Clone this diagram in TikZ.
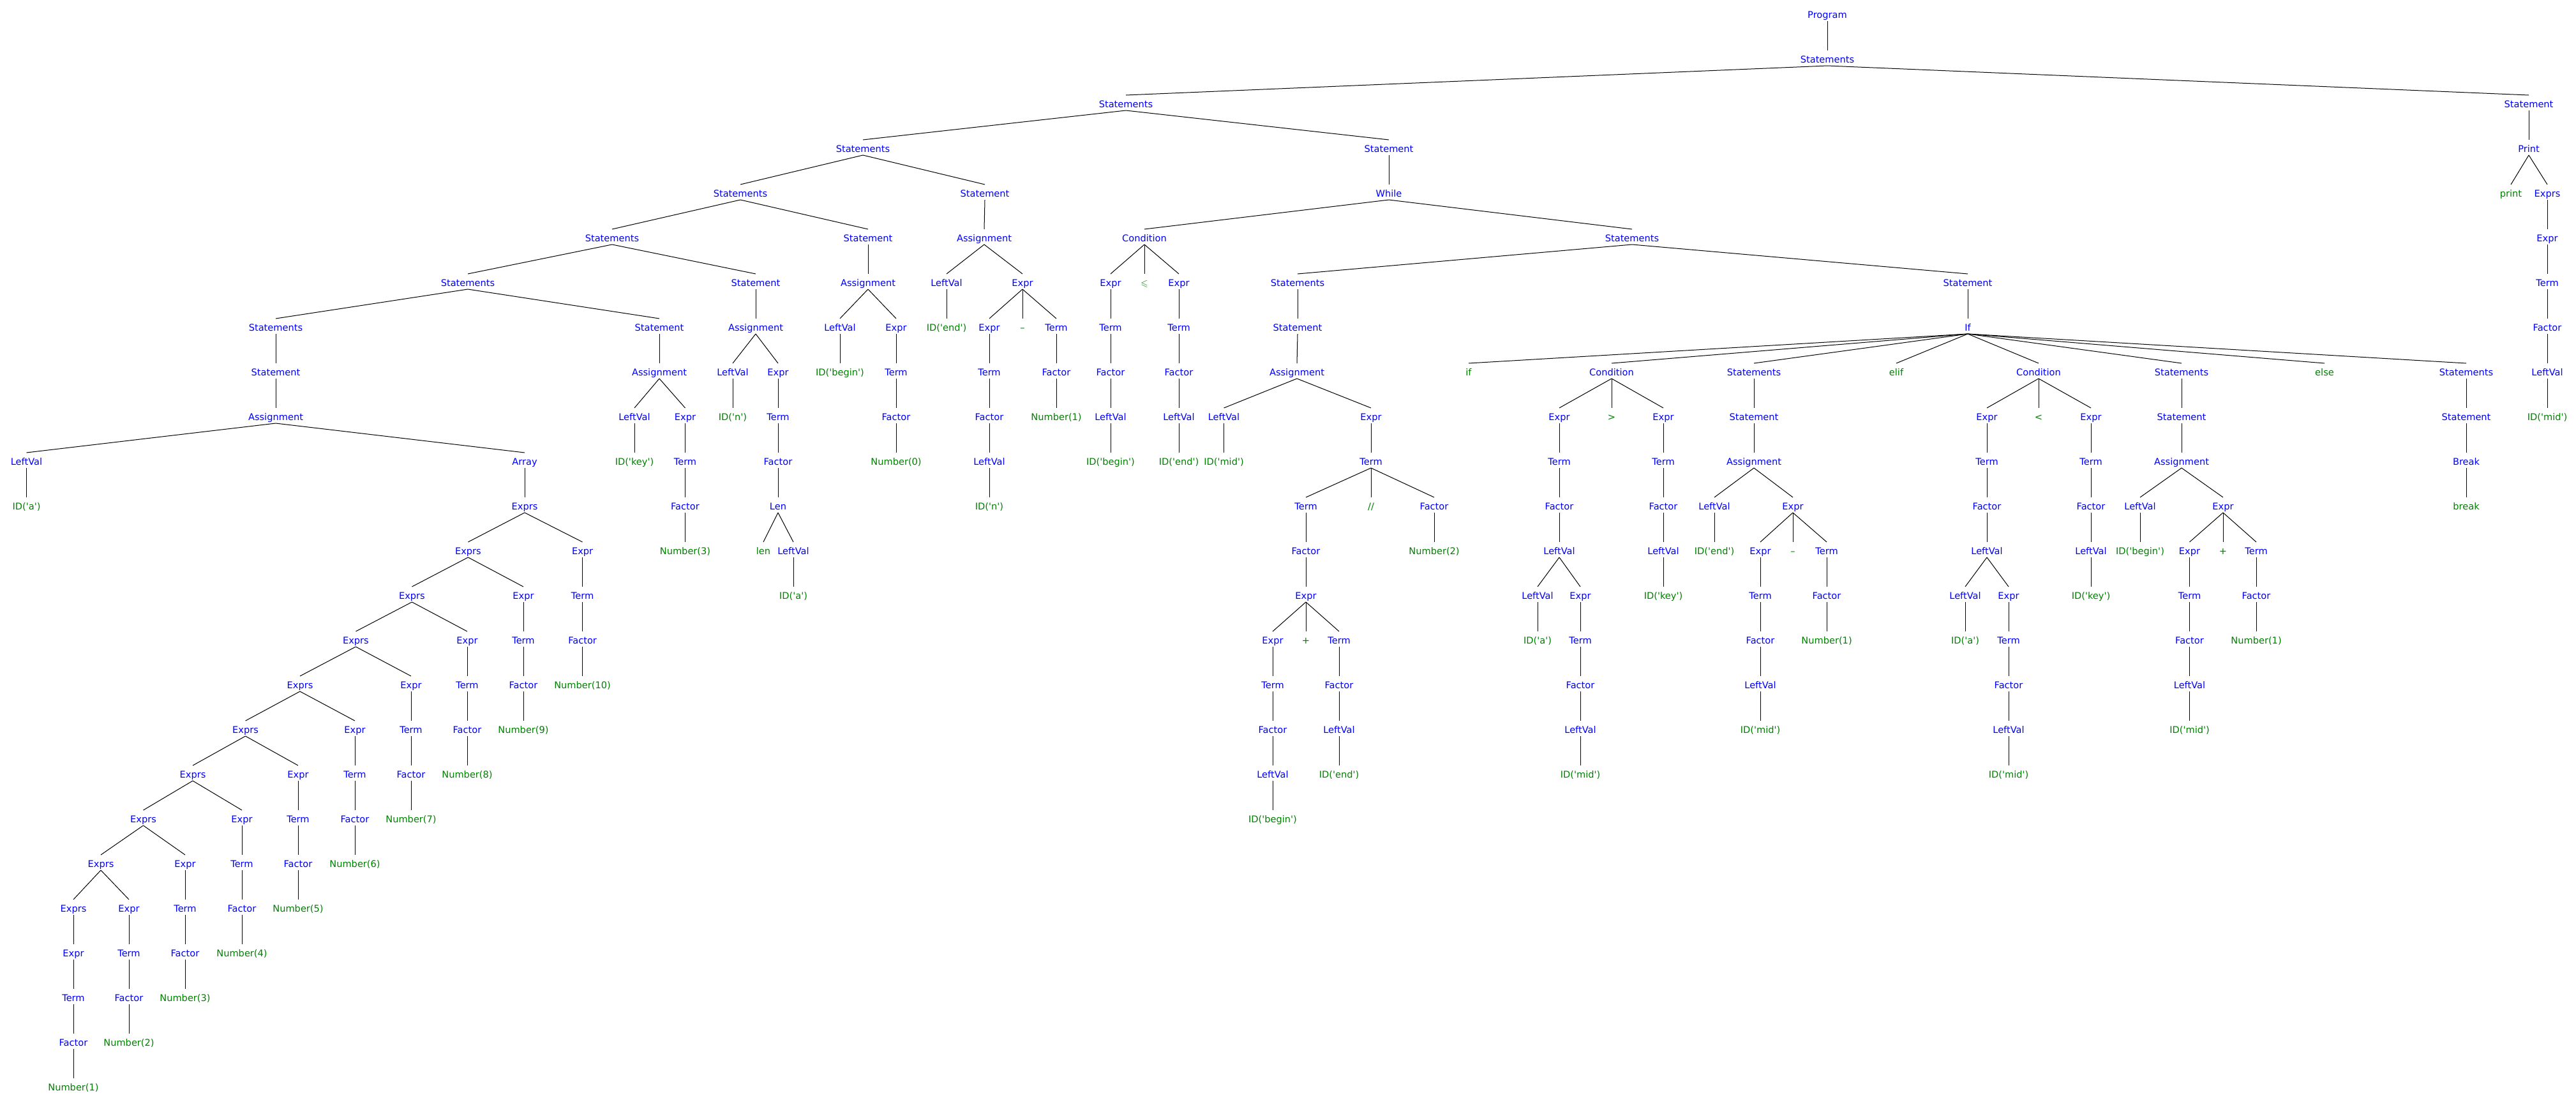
\documentclass[tikz,border=0pt]{standalone}
\usepackage{fontspec}
\usepackage{amssymb}
\newfontfamily\treefont{DejaVu Sans}[Ligatures=TeXOff]
\definecolor{ntblue}{RGB}{0,0,255}
\definecolor{tmgreen}{RGB}{0,128,0}
\tikzset{
  lab/.style={inner sep=0pt, outer sep=0pt, anchor=base, yshift=-5.3pt,
    text height=19.3pt, text depth=4.7pt,
    font=\treefont\fontsize{14.6}{17}\selectfont},
  nt/.style={lab, text=ntblue},
  tm/.style={lab, text=tmgreen},
  edge/.style={line width=1pt, black}
}
\newcommand{\PTn}[6]{\node[#5] (#1) at (#2,#3) {#4};\draw[edge] (#6.south) -- (#1.north);}
\begin{document}
\begin{tikzpicture}[x=1pt,y=-70pt]
\useasboundingbox (0,-0.328571) rectangle (4036,24.271429);
% L0-L1
\node[nt] (p0) at (2863,0) {Program};
\PTn{s1}{2863}{1}{Statements}{nt}{p0}
% L2
\PTn{s2}{1764}{2}{Statements}{nt}{s1}
\PTn{st2}{3962}{2}{Statement}{nt}{s1}
% L3
\PTn{s3}{1352}{3}{Statements}{nt}{s2}
\PTn{st3}{2176}{3}{Statement}{nt}{s2}
\PTn{pr3}{3962}{3}{Print}{nt}{st2}
% L4
\PTn{s4}{1160}{4}{Statements}{nt}{s3}
\PTn{st4}{1543}{4}{Statement}{nt}{s3}
\PTn{wh4}{2176}{4}{While}{nt}{st3}
\PTn{prt4}{3934}{4}{print}{tm}{pr3}
\PTn{exs4}{3991}{4}{Exprs}{nt}{pr3}
% L5
\PTn{s5}{959}{5}{Statements}{nt}{s4}
\PTn{st5}{1360}{5}{Statement}{nt}{s4}
\PTn{as5}{1542}{5}{Assignment}{nt}{st4}
\PTn{cd5}{1793}{5}{Condition}{nt}{wh4}
\PTn{ss5}{2557}{5}{Statements}{nt}{wh4}
\PTn{ex5}{3991}{5}{Expr}{nt}{exs4}
% L6
\PTn{s6}{733}{6}{Statements}{nt}{s5}
\PTn{st6}{1184}{6}{Statement}{nt}{s5}
\PTn{as6}{1360}{6}{Assignment}{nt}{st5}
\PTn{lv6}{1483}{6}{LeftVal}{nt}{as5}
\PTn{e6}{1602}{6}{Expr}{nt}{as5}
\PTn{ce6a}{1740}{6}{Expr}{nt}{cd5}
\PTn{le6}{1793}{6}{$\leqslant$}{tm}{cd5}
\PTn{ce6b}{1847}{6}{Expr}{nt}{cd5}
\PTn{ss6}{2033}{6}{Statements}{nt}{ss5}
\PTn{st6b}{3083}{6}{Statement}{nt}{ss5}
\PTn{t6r}{3991}{6}{Term}{nt}{ex5}
% L7
\PTn{s7}{432}{7}{Statements}{nt}{s6}
\PTn{st7}{1033}{7}{Statement}{nt}{s6}
\PTn{as7}{1184}{7}{Assignment}{nt}{st6}
\PTn{lv7}{1316}{7}{LeftVal}{nt}{as6}
\PTn{e7}{1404}{7}{Expr}{nt}{as6}
\PTn{id7}{1483}{7}{ID('end')}{tm}{lv6}
\PTn{e7b}{1550}{7}{Expr}{nt}{e6}
\PTn{mi7}{1602}{7}{–}{tm}{e6}
\PTn{t7}{1655}{7}{Term}{nt}{e6}
\PTn{t7a}{1740}{7}{Term}{nt}{ce6a}
\PTn{t7b}{1847}{7}{Term}{nt}{ce6b}
\PTn{st7b}{2033}{7}{Statement}{nt}{ss6}
\PTn{if7}{3083}{7}{If}{nt}{st6b}
\PTn{f7r}{3991}{7}{Factor}{nt}{t6r}
% L8
\PTn{st8}{432}{8}{Statement}{nt}{s7}
\PTn{as8}{1033}{8}{Assignment}{nt}{st7}
\PTn{lv8}{1148}{8}{LeftVal}{nt}{as7}
\PTn{e8}{1219}{8}{Expr}{nt}{as7}
\PTn{id8}{1316}{8}{ID('begin')}{tm}{lv7}
\PTn{t8}{1404}{8}{Term}{nt}{e7}
\PTn{t8b}{1550}{8}{Term}{nt}{e7b}
\PTn{f8}{1655}{8}{Factor}{nt}{t7}
\PTn{f8a}{1740}{8}{Factor}{nt}{t7a}
\PTn{f8b}{1847}{8}{Factor}{nt}{t7b}
\PTn{as8b}{2032}{8}{Assignment}{nt}{st7b}
\PTn{kif}{2301}{8}{if}{tm}{if7}
\PTn{cdA}{2525}{8}{Condition}{nt}{if7}
\PTn{ssA}{2748}{8}{Statements}{nt}{if7}
\PTn{kelif}{2971}{8}{elif}{tm}{if7}
\PTn{cdB}{3194}{8}{Condition}{nt}{if7}
\PTn{ssB}{3418}{8}{Statements}{nt}{if7}
\PTn{kelse}{3642}{8}{else}{tm}{if7}
\PTn{ssC}{3864}{8}{Statements}{nt}{if7}
\PTn{lv8r}{3991}{8}{LeftVal}{nt}{f7r}
% L9
\PTn{as9}{432}{9}{Assignment}{nt}{st8}
\PTn{lv9}{994}{9}{LeftVal}{nt}{as8}
\PTn{e9}{1073.5}{9}{Expr}{nt}{as8}
\PTn{id9}{1148}{9}{ID('n')}{tm}{lv8}
\PTn{t9}{1219}{9}{Term}{nt}{e8}
\PTn{f9}{1404}{9}{Factor}{nt}{t8}
\PTn{f9b}{1550}{9}{Factor}{nt}{t8b}
\PTn{n9}{1655}{9}{Number(1)}{tm}{f8}
\PTn{lv9a}{1740}{9}{LeftVal}{nt}{f8a}
\PTn{lv9b}{1847}{9}{LeftVal}{nt}{f8b}
\PTn{lv9c}{1917.5}{9}{LeftVal}{nt}{as8b}
\PTn{e9c}{2148}{9}{Expr}{nt}{as8b}
\PTn{cAe1}{2443}{9}{Expr}{nt}{cdA}
\PTn{gt}{2525}{9}{>}{tm}{cdA}
\PTn{cAe2}{2606}{9}{Expr}{nt}{cdA}
\PTn{stA}{2748}{9}{Statement}{nt}{ssA}
\PTn{cBe1}{3113}{9}{Expr}{nt}{cdB}
\PTn{lt}{3194}{9}{<}{tm}{cdB}
\PTn{cBe2}{3276}{9}{Expr}{nt}{cdB}
\PTn{stB}{3418}{9}{Statement}{nt}{ssB}
\PTn{stC}{3864}{9}{Statement}{nt}{ssC}
\PTn{id9r}{3991}{9}{ID('mid')}{tm}{lv8r}
% L10
\PTn{lv10}{41.5}{10}{LeftVal}{nt}{as9}
\PTn{arr}{822}{10}{Array}{nt}{as9}
\PTn{id10}{994}{10}{ID('key')}{tm}{lv9}
\PTn{t10}{1073.5}{10}{Term}{nt}{e9}
\PTn{f10}{1219}{10}{Factor}{nt}{t9}
\PTn{n10}{1404}{10}{Number(0)}{tm}{f9}
\PTn{lv10b}{1550}{10}{LeftVal}{nt}{f9b}
\PTn{id10a}{1740}{10}{ID('begin')}{tm}{lv9a}
\PTn{id10b}{1847}{10}{ID('end')}{tm}{lv9b}
\PTn{id10c}{1917.5}{10}{ID('mid')}{tm}{lv9c}
\PTn{t10c}{2148}{10}{Term}{nt}{e9c}
\PTn{cAt1}{2443}{10}{Term}{nt}{cAe1}
\PTn{cAt2}{2606}{10}{Term}{nt}{cAe2}
\PTn{asA}{2748}{10}{Assignment}{nt}{stA}
\PTn{cBt1}{3113}{10}{Term}{nt}{cBe1}
\PTn{cBt2}{3276}{10}{Term}{nt}{cBe2}
\PTn{asB}{3418}{10}{Assignment}{nt}{stB}
\PTn{brk}{3864}{10}{Break}{nt}{stC}
% L11
\PTn{ida}{41.5}{11}{ID('a')}{tm}{lv10}
\PTn{xs11}{822}{11}{Exprs}{nt}{arr}
\PTn{f11}{1073.5}{11}{Factor}{nt}{t10}
\PTn{len11}{1219}{11}{Len}{nt}{f10}
\PTn{idn11}{1550}{11}{ID('n')}{tm}{lv10b}
\PTn{t11a}{2046}{11}{Term}{nt}{t10c}
\PTn{dd}{2148}{11}{//}{tm}{t10c}
\PTn{f11b}{2247}{11}{Factor}{nt}{t10c}
\PTn{cAf1}{2443}{11}{Factor}{nt}{cAt1}
\PTn{cAf2}{2606}{11}{Factor}{nt}{cAt2}
\PTn{lvA}{2686}{11}{LeftVal}{nt}{asA}
\PTn{eA}{2809}{11}{Expr}{nt}{asA}
\PTn{cBf1}{3113}{11}{Factor}{nt}{cBt1}
\PTn{cBf2}{3276}{11}{Factor}{nt}{cBt2}
\PTn{lvB}{3353}{11}{LeftVal}{nt}{asB}
\PTn{eB}{3483}{11}{Expr}{nt}{asB}
\PTn{brkk}{3864}{11}{break}{tm}{brk}
% L12
\PTn{xs12}{733.4}{12}{Exprs}{nt}{xs11}
\PTn{x12}{912.6}{12}{Expr}{nt}{xs11}
\PTn{n12}{1073.5}{12}{Number(3)}{tm}{f11}
\PTn{klen}{1196}{12}{len}{tm}{len11}
\PTn{lv12}{1243}{12}{LeftVal}{nt}{len11}
\PTn{f12}{2046}{12}{Factor}{nt}{t11a}
\PTn{n12b}{2247}{12}{Number(2)}{tm}{f11b}
\PTn{cAl1}{2443}{12}{LeftVal}{nt}{cAf1}
\PTn{cAl2}{2606}{12}{LeftVal}{nt}{cAf2}
\PTn{idA}{2686}{12}{ID('end')}{tm}{lvA}
\PTn{eA1}{2758}{12}{Expr}{nt}{eA}
\PTn{miA}{2809}{12}{–}{tm}{eA}
\PTn{tA}{2862}{12}{Term}{nt}{eA}
\PTn{cBl1}{3113}{12}{LeftVal}{nt}{cBf1}
\PTn{cBl2}{3276}{12}{LeftVal}{nt}{cBf2}
\PTn{idB}{3353}{12}{ID('begin')}{tm}{lvB}
\PTn{eB1}{3430.5}{12}{Expr}{nt}{eB}
\PTn{plB}{3483}{12}{+}{tm}{eB}
\PTn{tB}{3535}{12}{Term}{nt}{eB}
% L13
\PTn{xs13}{645.4}{13}{Exprs}{nt}{xs12}
\PTn{x13}{820}{13}{Expr}{nt}{xs12}
\PTn{t13}{912.6}{13}{Term}{nt}{x12}
\PTn{ida13}{1243}{13}{ID('a')}{tm}{lv12}
\PTn{e13}{2046}{13}{Expr}{nt}{f12}
\PTn{cAl1a}{2409}{13}{LeftVal}{nt}{cAl1}
\PTn{cAe1b}{2476}{13}{Expr}{nt}{cAl1}
\PTn{idk13}{2606}{13}{ID('key')}{tm}{cAl2}
\PTn{tA1}{2758}{13}{Term}{nt}{eA1}
\PTn{fA}{2862}{13}{Factor}{nt}{tA}
\PTn{cBl1a}{3079}{13}{LeftVal}{nt}{cBl1}
\PTn{cBe1b}{3147}{13}{Expr}{nt}{cBl1}
\PTn{idk13b}{3276}{13}{ID('key')}{tm}{cBl2}
\PTn{tB1}{3430.5}{13}{Term}{nt}{eB1}
\PTn{fB}{3535}{13}{Factor}{nt}{tB}
% L14
\PTn{xs14}{557.4}{14}{Exprs}{nt}{xs13}
\PTn{x14}{732}{14}{Expr}{nt}{xs13}
\PTn{t14}{820}{14}{Term}{nt}{x13}
\PTn{f14}{912.6}{14}{Factor}{nt}{t13}
\PTn{e14a}{1994}{14}{Expr}{nt}{e13}
\PTn{pl14}{2046}{14}{+}{tm}{e13}
\PTn{t14b}{2098}{14}{Term}{nt}{e13}
\PTn{ida14}{2409}{14}{ID('a')}{tm}{cAl1a}
\PTn{cAt14}{2476}{14}{Term}{nt}{cAe1b}
\PTn{fA1}{2758}{14}{Factor}{nt}{tA1}
\PTn{nA}{2862}{14}{Number(1)}{tm}{fA}
\PTn{idb14}{3079}{14}{ID('a')}{tm}{cBl1a}
\PTn{cBt14}{3147}{14}{Term}{nt}{cBe1b}
\PTn{fB1}{3430.5}{14}{Factor}{nt}{tB1}
\PTn{nB}{3535}{14}{Number(1)}{tm}{fB}
% L15
\PTn{xs15}{470}{15}{Exprs}{nt}{xs14}
\PTn{x15}{644}{15}{Expr}{nt}{xs14}
\PTn{t15}{732}{15}{Term}{nt}{x14}
\PTn{f15}{820}{15}{Factor}{nt}{t14}
\PTn{n15}{912.6}{15}{Number(10)}{tm}{f14}
\PTn{t15a}{1994}{15}{Term}{nt}{e14a}
\PTn{f15b}{2098}{15}{Factor}{nt}{t14b}
\PTn{cAf15}{2476}{15}{Factor}{nt}{cAt14}
\PTn{lvA15}{2758}{15}{LeftVal}{nt}{fA1}
\PTn{cBf15}{3147}{15}{Factor}{nt}{cBt14}
\PTn{lvB15}{3430.5}{15}{LeftVal}{nt}{fB1}
% L16
\PTn{xs16}{384.6}{16}{Exprs}{nt}{xs15}
\PTn{x16}{556}{16}{Expr}{nt}{xs15}
\PTn{t16}{644}{16}{Term}{nt}{x15}
\PTn{f16}{732}{16}{Factor}{nt}{t15}
\PTn{n16}{820}{16}{Number(9)}{tm}{f15}
\PTn{f16a}{1994}{16}{Factor}{nt}{t15a}
\PTn{lv16b}{2098}{16}{LeftVal}{nt}{f15b}
\PTn{cAl16}{2476}{16}{LeftVal}{nt}{cAf15}
\PTn{idmA}{2758}{16}{ID('mid')}{tm}{lvA15}
\PTn{cBl16}{3147}{16}{LeftVal}{nt}{cBf15}
\PTn{idmB}{3430.5}{16}{ID('mid')}{tm}{lvB15}
% L17
\PTn{xs17}{302}{17}{Exprs}{nt}{xs16}
\PTn{x17}{467}{17}{Expr}{nt}{xs16}
\PTn{t17}{556}{17}{Term}{nt}{x16}
\PTn{f17}{644}{17}{Factor}{nt}{t16}
\PTn{n17}{732}{17}{Number(8)}{tm}{f16}
\PTn{lv17a}{1994}{17}{LeftVal}{nt}{f16a}
\PTn{ide17}{2098}{17}{ID('end')}{tm}{lv16b}
\PTn{idm17A}{2476}{17}{ID('mid')}{tm}{cAl16}
\PTn{idm17B}{3147}{17}{ID('mid')}{tm}{cBl16}
% L18
\PTn{xs18}{224.5}{18}{Exprs}{nt}{xs17}
\PTn{x18}{379}{18}{Expr}{nt}{xs17}
\PTn{t18}{467}{18}{Term}{nt}{x17}
\PTn{f18}{556}{18}{Factor}{nt}{t17}
\PTn{n18}{644}{18}{Number(7)}{tm}{f17}
\PTn{idb18}{1994}{18}{ID('begin')}{tm}{lv17a}
% L19
\PTn{xs19}{158}{19}{Exprs}{nt}{xs18}
\PTn{x19}{290}{19}{Expr}{nt}{xs18}
\PTn{t19}{379}{19}{Term}{nt}{x18}
\PTn{f19}{467}{19}{Factor}{nt}{t18}
\PTn{n19}{556}{19}{Number(6)}{tm}{f18}
% L20
\PTn{xs20}{115}{20}{Exprs}{nt}{xs19}
\PTn{x20}{202}{20}{Expr}{nt}{xs19}
\PTn{t20}{290}{20}{Term}{nt}{x19}
\PTn{f20}{379}{20}{Factor}{nt}{t19}
\PTn{n20}{467}{20}{Number(5)}{tm}{f19}
% L21
\PTn{x21}{115}{21}{Expr}{nt}{xs20}
\PTn{t21}{202}{21}{Term}{nt}{x20}
\PTn{f21}{290}{21}{Factor}{nt}{t20}
\PTn{n21}{379}{21}{Number(4)}{tm}{f20}
% L22
\PTn{t22}{115}{22}{Term}{nt}{x21}
\PTn{f22}{202}{22}{Factor}{nt}{t21}
\PTn{n22}{290}{22}{Number(3)}{tm}{f21}
% L23
\PTn{f23}{115}{23}{Factor}{nt}{t22}
\PTn{n23}{202}{23}{Number(2)}{tm}{f22}
% L24
\PTn{n24}{115}{24}{Number(1)}{tm}{f23}
\end{tikzpicture}
\end{document}
